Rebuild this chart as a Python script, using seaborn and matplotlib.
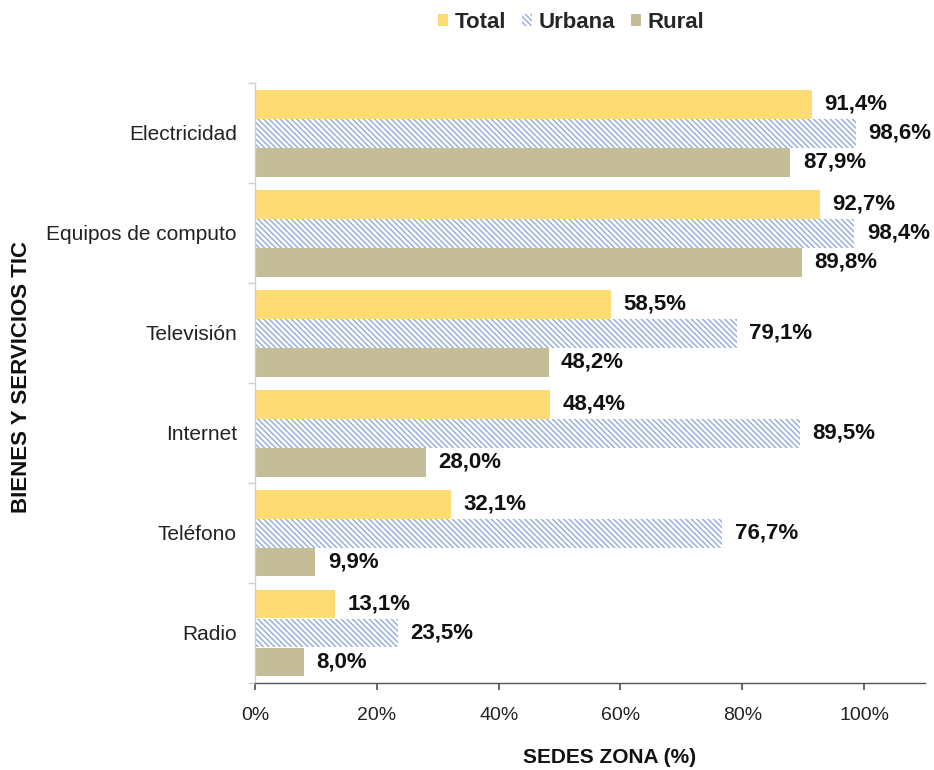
import matplotlib
matplotlib.use("Agg")
import matplotlib.pyplot as plt
import seaborn as sns
import pandas as pd
from matplotlib.patches import Patch
from matplotlib.ticker import FixedLocator

categories = ["Electricidad", "Equipos de computo", "Televisión", "Internet", "Teléfono", "Radio"]
zones = ["Total", "Urbana", "Rural"]
total = [91.4, 92.7, 58.5, 48.4, 32.1, 13.1]
urbana = [98.6, 98.4, 79.1, 89.5, 76.7, 23.5]
rural = [87.9, 89.8, 48.2, 28.0, 9.9, 8.0]
xticks = [0, 20, 40, 60, 80, 100]

sns.set_theme(style="white")
plt.rcParams['font.family'] = ['Liberation Sans', 'DejaVu Sans']
plt.rcParams['hatch.linewidth'] = 1.0

rows = []
for z, vals in zip(zones, [total, urbana, rural]):
    for c, v in zip(categories, vals):
        rows.append({"cat": c, "zona": z, "val": v})
df = pd.DataFrame(rows)

col_total = "#FFDC73"
col_urb = "#8FAADC"
col_rural = "#C4BD97"
palette = {"Total": col_total, "Urbana": "#FFFFFF", "Rural": col_rural}

fig = plt.figure(figsize=(9.34, 7.7), dpi=100)
ax = fig.add_axes([255/934, 1-683/770, 670/934, 600/770])

sns.barplot(data=df, y="cat", x="val", hue="zona", order=categories, hue_order=zones,
            palette=palette, orient="h", width=0.87, ax=ax, legend=False,
            saturation=1, linewidth=0)

for z, cont in zip(zones, ax.containers):
    for bar in cont:
        if z == "Urbana":
            bar.set_facecolor("white")
            bar.set_edgecolor(col_urb)
            bar.set_hatch("\\\\\\\\\\\\")
            bar.set_linewidth(0)
    labels = [f"{v:.1f}%".replace(".", ",") for v in cont.datavalues]
    ax.bar_label(cont, labels=labels, padding=9, fontsize=16, fontweight="bold", color="#111111")

ax.set_xlim(0, 110)
ax.set_ylim(len(categories) - 0.5, -0.5)
ax.xaxis.set_major_locator(FixedLocator(xticks))
ax.set_xticklabels([f"{t}%" for t in xticks], fontsize=14)
ax.tick_params(axis="x", bottom=True, length=5, color="#555555", pad=12, labelcolor="#222222")
ax.tick_params(axis="y", which="major", left=False, length=0, labelsize=15, pad=13, labelcolor="#222222")
ax.yaxis.set_minor_locator(FixedLocator([i - 0.5 for i in range(len(categories) + 1)]))
ax.tick_params(axis="y", which="minor", left=True, length=5, color="#D0D0D0", width=1)

for s in ["top", "right"]:
    ax.spines[s].set_visible(False)
ax.spines["left"].set_color("#D0D0D0")
ax.spines["bottom"].set_color("#555555")
ax.spines["left"].set_linewidth(1)
ax.spines["bottom"].set_linewidth(1)

ax.set_xlabel("SEDES ZONA (%)", fontsize=15, fontweight="bold", color="#111111")
ax.set_ylabel("BIENES Y SERVICIOS TIC", fontsize=16, fontweight="bold", color="#111111")
ax.xaxis.set_label_coords((610 - 255) / 670, (683 - 748) / 600)
ax.yaxis.set_label_coords((32 - 255) / 670, (683 - 377) / 600)

handles = [Patch(facecolor=col_total, edgecolor="none", label="Total"),
           Patch(facecolor="white", edgecolor=col_urb, hatch="\\\\\\\\\\\\", linewidth=0, label="Urbana"),
           Patch(facecolor=col_rural, edgecolor="none", label="Rural")]
leg = fig.legend(handles=handles, loc="center", bbox_to_anchor=(571/934, 1-22/770), ncol=3,
                 frameon=False, handlelength=0.45, handleheight=0.45, handletextpad=0.3,
                 columnspacing=0.7, prop={"size": 16, "weight": "bold"})

fig.savefig("out.png", dpi=100)
